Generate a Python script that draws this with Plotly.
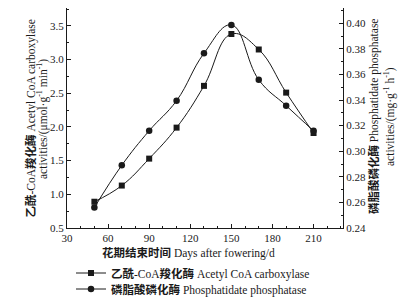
import plotly.graph_objects as go

days = [50, 70, 90, 110, 130, 150, 170, 190, 210]
acc_values = [0.89, 1.13, 1.53, 1.99, 2.61, 3.38, 3.15, 2.51, 1.91]
pap_values = [0.256, 0.289, 0.316, 0.3395, 0.3765, 0.3987, 0.3558, 0.3356, 0.3159]

acc_name = "<b>乙酰</b>-CoA<b>羧化酶</b> Acetyl CoA carboxylase"
pap_name = "<b>磷脂酸磷化酶</b> Phosphatidate phosphatase"
x_title = "<b>花期结束时间</b> Days after fowering/d"
y_title_1 = "<b>乙酰</b>-CoA<b>羧化酶</b> Acetyl CoA carboxylase"
y_title_2 = "activities/(μmol·g<sup>-1</sup> min<sup>-1</sup>)"
y2_title_1 = "<b>磷脂酸磷化酶</b> Phosphatidate phosphatase"
y2_title_2 = "activities/(mg·g<sup>-1</sup> h<sup>-1</sup>)"

FONT = "Liberation Serif, 'Noto Sans CJK SC', serif"
INK = "#1a1a1a"

# page offset of the plot div (default body margin)
OFF = 8
W, H = 399, 296
L, R, T, B = 59, 64, 0, 76
PW, PH = W - L - R, H - T - B


def px_x(p):
    return (p - OFF - L) / PW


def px_y(p):
    return (H - B - (p - OFF)) / PH


fig = go.Figure()
fig.add_trace(go.Scatter(
    x=days, y=acc_values, name=acc_name, mode="lines+markers",
    line=dict(color=INK, width=1, shape="spline", smoothing=1.2),
    marker=dict(symbol="square", size=6, color=INK),
    legend="legend",
))
fig.add_trace(go.Scatter(
    x=days, y=pap_values, name=pap_name, mode="lines+markers", yaxis="y2",
    line=dict(color=INK, width=1, shape="spline", smoothing=1.2),
    marker=dict(symbol="circle", size=6.5, color=INK),
    legend="legend2",
))

axis_common = dict(
    showline=True, linecolor=INK, linewidth=1, ticks="inside", ticklen=4,
    tickcolor=INK, showgrid=False, zeroline=False, automargin=False,
    tickfont=dict(family=FONT, size=11, color=INK),
)

legend_common = dict(
    xanchor="left", yanchor="middle",
    font=dict(family=FONT, size=11.5, color=INK),
    bgcolor="rgba(0,0,0,0)", itemwidth=30,
)


def vtitle(text, xp, yp):
    return dict(
        text=text, xref="paper", yref="paper", x=px_x(xp), y=px_y(yp),
        xanchor="center", yanchor="middle", showarrow=False, textangle=-90,
        font=dict(family=FONT, size=11.5, color=INK),
    )


fig.update_layout(
    width=W, height=H,
    margin=dict(l=L, r=R, t=T, b=B, autoexpand=False),
    paper_bgcolor="white", plot_bgcolor="white",
    font=dict(family=FONT, size=11, color=INK),
    showlegend=True,
    legend=dict(x=px_x(71), y=px_y(273), **legend_common),
    legend2=dict(x=px_x(71), y=px_y(289), **legend_common),
    xaxis=dict(
        range=[30, 231.5], tickmode="linear", tick0=30, dtick=30,
        minor=dict(ticks="inside", ticklen=2, tickcolor=INK, dtick=10, tick0=30),
        ticklabelstandoff=0,
        **axis_common,
    ),
    yaxis=dict(
        range=[0.5, 3.766], tickmode="linear", tick0=0.5, dtick=0.5,
        tickformat=".1f",
        minor=dict(ticks="inside", ticklen=2, tickcolor=INK, dtick=0.25, tick0=0.5),
        **axis_common,
    ),
    yaxis2=dict(
        range=[0.24, 0.4119], overlaying="y", side="right",
        tickmode="linear", tick0=0.24, dtick=0.02, tickformat=".2f",
        minor=dict(ticks="inside", ticklen=2, tickcolor=INK, dtick=0.01, tick0=0.24),
        **axis_common,
    ),
    annotations=[
        dict(
            text=x_title, xref="paper", yref="paper", x=px_x(100), y=px_y(253),
            xanchor="left", yanchor="middle", showarrow=False,
            font=dict(family=FONT, size=11.5, color=INK),
        ),
        vtitle(y_title_1, 30.5, 119),
        vtitle(y_title_2, 42, 119),
        vtitle(y2_title_1, 374, 117),
        vtitle(y2_title_2, 389, 117),
    ],
)

fig.write_html("out.html")
